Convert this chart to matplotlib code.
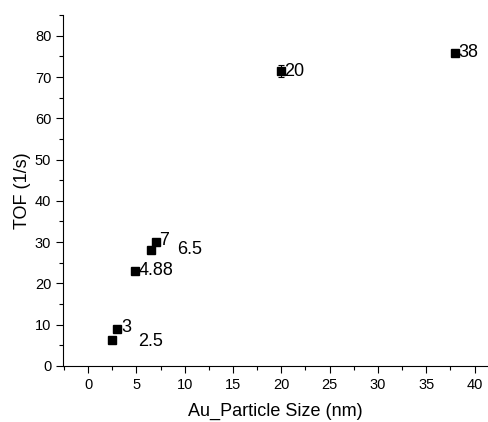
import matplotlib
matplotlib.use("Agg")
import matplotlib.pyplot as plt
from matplotlib.ticker import MultipleLocator

plt.rcParams['font.family'] = ['Liberation Sans', 'DejaVu Sans']

size = [2.5, 3, 4.88, 6.5, 7, 20, 38]
tof = [6.2, 9.0, 23.0, 28.2, 30.0, 71.4, 75.9]
tof_err = [0, 0, 0, 0, 0, 1.5, 0]
labels = ["2.5", "3", "4.88", "6.5", "7", "20", "38"]
# label offsets in data units (dx, dy)
label_off = [(2.7, -0.3), (0.4, 0.3), (0.3, 0), (2.7, 0), (0.3, 0.3), (0.3, 0), (0.3, 0)]

fig = plt.figure(figsize=(4.89, 4.22), dpi=100)
ax = fig.add_axes([0.129, 0.133, 0.869, 0.831])

ax.errorbar(size, tof, yerr=tof_err, fmt='s', color='black', markersize=5.5,
            capsize=2.5, elinewidth=0.8, capthick=0.8)
for x, y, t, (dx, dy) in zip(size, tof, labels, label_off):
    ax.text(x + dx, y + dy, t, fontsize=13, va='center', ha='left')

ax.set_xlim(-2.6, 41.4)
ax.set_ylim(0, 85)
ax.xaxis.set_major_locator(MultipleLocator(5))
ax.xaxis.set_minor_locator(MultipleLocator(2.5))
ax.yaxis.set_major_locator(MultipleLocator(10))
ax.yaxis.set_minor_locator(MultipleLocator(5))
ax.tick_params(which='major', direction='out', length=5, width=0.8, labelsize=10.5)
ax.tick_params(which='minor', direction='out', length=3, width=0.8)
ax.spines['top'].set_visible(False)
ax.spines['right'].set_visible(False)
ax.set_xlabel("Au_Particle Size (nm)", fontsize=13, labelpad=8)
ax.set_ylabel("TOF (1/s)", fontsize=13, labelpad=3)

fig.savefig("out.png", dpi=100)
